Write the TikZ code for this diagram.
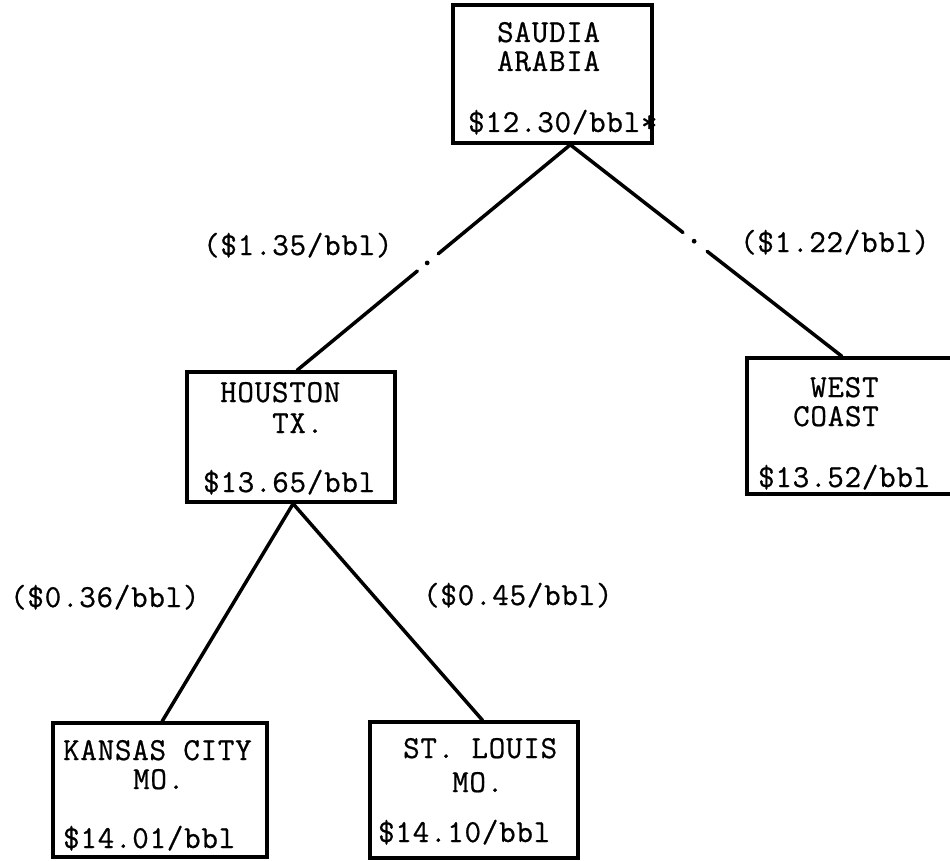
\documentclass[tikz,border=0pt]{standalone}
\usepackage{fontspec}
\newfontfamily\twfont[FakeBold=0.7,LetterSpace=2.5]{Latin Modern Mono}
\usetikzlibrary{calc}
\tikzset{
  boxnode/.style={draw, line width=3.5pt, inner sep=0pt},
  txt/.style={anchor=base west, inner sep=0pt, font=\twfont\fontsize{32}{36}\selectfont},
  link/.style={line width=3.5pt, line cap=round},
}
\begin{document}
\begin{tikzpicture}[x=1pt,y=-1pt]
\useasboundingbox (0,0) rectangle (950,861);
\clip (0,0) rectangle (950,861);
% boxes
\node[boxnode, minimum width=199pt, minimum height=138pt] (sa) at (552.5,74) {};
\node[boxnode, minimum width=208pt, minimum height=130pt] (hou) at (291,437) {};
\node[boxnode, minimum width=213pt, minimum height=136pt] (wc) at (853.5,426) {};
\node[boxnode, minimum width=214pt, minimum height=134pt] (kc) at (160,790) {};
\node[boxnode, minimum width=208pt, minimum height=136pt] (sl) at (474,790) {};
% texts
\node[txt] (sa1) at (497,42) {SAUDIA};
\node[txt] (sa2) at (497,71) {ARABIA};
\node[txt] (sa3) at (468,132) {\$12.30/bbl*};
\node[txt] (ho1) at (220,402) {HOUSTON};
\node[txt] (ho2) at (272,433) {TX.};
\node[txt] (ho3) at (203,492) {\$13.65/bbl};
\node[txt] (wc1) at (810,397) {WEST};
\node[txt] (wc2) at (793,426) {COAST};
\node[txt] (wc3) at (758,487) {\$13.52/bbl};
\node[txt] (kc1) at (63,760) {KANSAS CITY};
\node[txt] (kc2) at (133,789) {MO.};
\node[txt] (kc3) at (63,848) {\$14.01/bbl};
\node[txt] (sl1) at (403,758) {ST. LOUIS};
\node[txt] (sl2) at (452,792) {MO.};
\node[txt] (sl3) at (378,842) {\$14.10/bbl};
% cost labels
\node[txt] (l1) at (203,255) {(\$1.35/bbl)};
\node[txt] (l2) at (740,252) {(\$1.22/bbl)};
\node[txt] (l3) at (10,607) {(\$0.36/bbl)};
\node[txt] (l4) at (423,605) {(\$0.45/bbl)};
% attachment points
\coordinate (saB) at ($(sa.south west)!0.588!(sa.south east)$);
\coordinate (houT) at ($(hou.north west)!0.529!(hou.north east)$);
\coordinate (houB) at ($(hou.south west)!0.51!(hou.south east)$);
\coordinate (wcT) at ($(wc.north west)!0.446!(wc.north east)$);
\coordinate (kcT) at ($(kc.north west)!0.51!(kc.north east)$);
\coordinate (slT) at ($(sl.north west)!0.54!(sl.north east)$);
% broken sea routes
\draw[link] (saB) -- ($(saB)!0.4835!(houT)$);
\fill ($(saB)!0.524!(houT)$) circle (2.4pt);
\draw[link] ($(saB)!0.56!(houT)$) -- (houT);
\draw[link] (saB) -- ($(saB)!0.415!(wcT)$);
\fill ($(saB)!0.456!(wcT)$) circle (2.4pt);
\draw[link] ($(saB)!0.504!(wcT)$) -- (wcT);
% pipelines
\draw[link] (houB) -- (kcT);
\draw[link] (houB) -- (slT);
\end{tikzpicture}
\end{document}
